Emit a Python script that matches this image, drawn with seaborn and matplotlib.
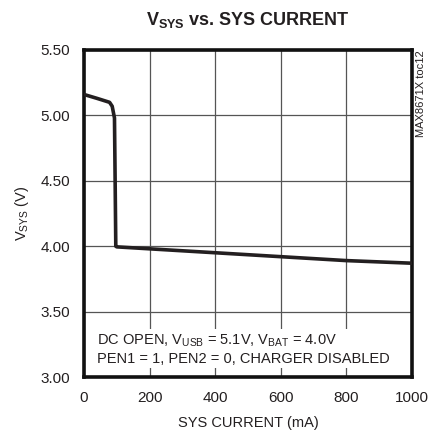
import matplotlib
matplotlib.use("Agg")
import matplotlib.pyplot as plt
import seaborn as sns
import pandas as pd

# data
current_ma = [0, 40, 78, 86, 93, 95, 97, 100, 200, 400, 600, 800, 1000]
vsys = [5.16, 5.13, 5.10, 5.07, 4.98, 4.50, 4.00, 3.995, 3.98, 3.95, 3.92, 3.89, 3.87]
x_ticks = [0, 200, 400, 600, 800, 1000]
y_ticks = [3.00, 3.50, 4.00, 4.50, 5.00, 5.50]

df = pd.DataFrame({"current": current_ma, "vsys": vsys})

sns.set_style("white")
plt.rcParams['font.family'] = ['Liberation Sans', 'DejaVu Sans']
plt.rcParams['mathtext.default'] = 'regular'

fig = plt.figure(figsize=(4.3, 4.34), dpi=100)
ax = fig.add_axes([0.1953, 0.1313, 0.7627, 0.7535])

sns.lineplot(data=df, x="current", y="vsys", ax=ax, color="#231f20",
             linewidth=2.6, zorder=3)

ax.set_xlim(0, 1000)
ax.set_ylim(3.0, 5.5)
ax.set_xticks(x_ticks)
ax.set_yticks(y_ticks)
ax.set_xticklabels([str(t) for t in x_ticks], fontsize=11)
ax.set_yticklabels([f"{t:.2f}" for t in y_ticks], fontsize=11)
ax.tick_params(length=0, pad=10, colors="#231f20")
ax.grid(True, color="#555555", linewidth=0.9, zorder=1)
ax.set_axisbelow(True)
for s in ax.spines.values():
    s.set_linewidth(2.6)
    s.set_color("#111111")

ax.set_xlabel("SYS CURRENT (mA)", fontsize=10.5, color="#231f20", labelpad=8)
ax.set_ylabel("V$_{SYS}$ (V)", fontsize=10.5, color="#231f20", labelpad=7)
ax.set_title("V$_{SYS}$ vs. SYS CURRENT", fontsize=13, fontweight="bold",
             color="#231f20", pad=18)

ax.text(0.04, 0.035,
        "DC OPEN, V$_{USB}$ = 5.1V, V$_{BAT}$ = 4.0V\nPEN1 = 1, PEN2 = 0, CHARGER DISABLED",
        transform=ax.transAxes, fontsize=10.5, color="#231f20", linespacing=1.2,
        ha="left", va="bottom", zorder=4,
        bbox=dict(facecolor="white", edgecolor="none", pad=2))

fig.text(0.979, 0.885, "MAX8671X toc12", rotation=90, fontsize=8,
         color="#231f20", ha="center", va="top")

fig.savefig("out.png", dpi=100)
